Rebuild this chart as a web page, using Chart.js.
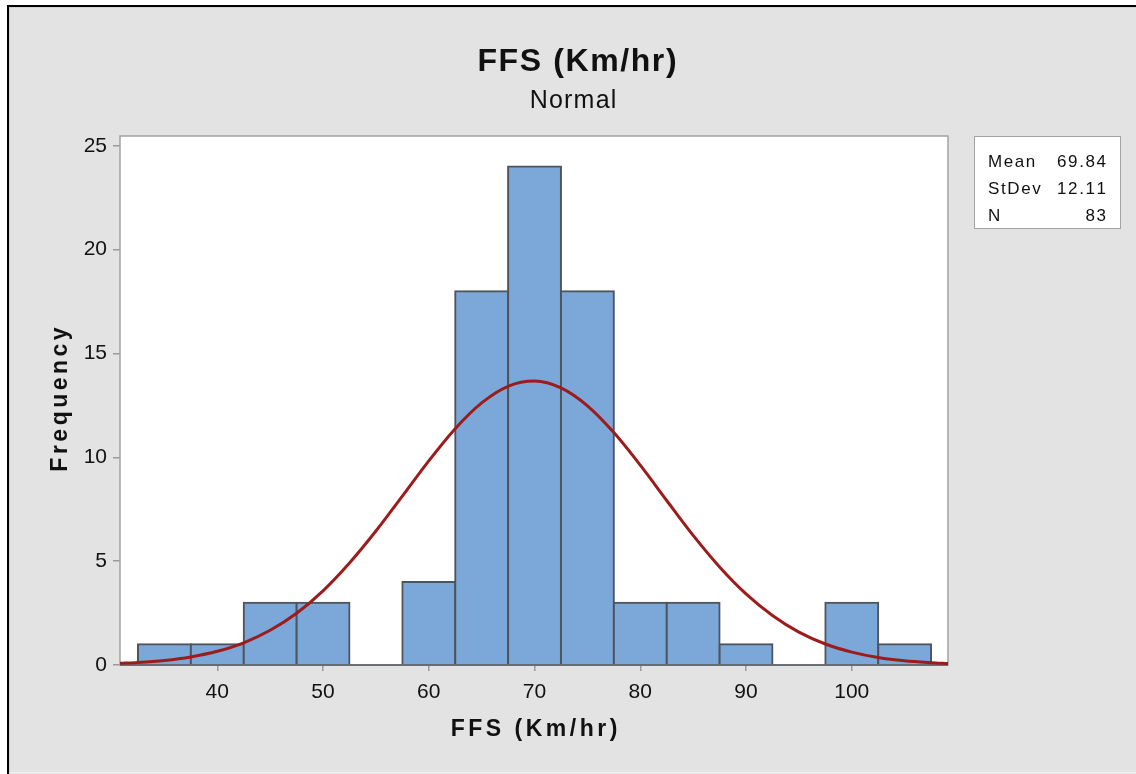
<!DOCTYPE html>
<html>
<head>
<meta charset="utf-8">
<script src="https://cdn.jsdelivr.net/npm/chart.js@4.4.1/dist/chart.umd.min.js"></script>
<style>
  html, body { margin: 0; padding: 0; background: #ffffff; }
  canvas { display: block; }
</style>
</head>
<body>
<canvas id="c" width="1136" height="774"></canvas>
<script>
// ---- Data ----
const BIN_CENTERS = [35, 40, 45, 50, 55, 60, 65, 70, 75, 80, 85, 90, 95, 100, 105];
const FREQUENCIES = [1, 1, 3, 3, 0, 4, 18, 24, 18, 3, 3, 1, 0, 3, 1];
const CURVE_X = [30.8, 32.5, 35, 37.5, 40, 42.5, 45, 47.5, 50, 52.5, 55, 57.5, 60, 62.5, 65, 67.5, 70,
                 72.5, 75, 77.5, 80, 82.5, 85, 87.5, 90, 92.5, 95, 97.5, 100, 102.5, 105, 107.5, 109.1];
const CURVE_Y = [0.08, 0.12, 0.22, 0.39, 0.66, 1.07, 1.67, 2.49, 3.57, 4.91, 6.45, 8.13, 9.83, 11.38, 12.62, 13.42, 13.67,
                 13.34, 12.48, 11.19, 9.62, 7.92, 6.24, 4.72, 3.42, 2.38, 1.58, 1.01, 0.62, 0.36, 0.20, 0.11, 0.07];
const X_TICKS = [40, 50, 60, 70, 80, 90, 100];
const Y_TICKS = [0, 5, 10, 15, 20, 25];
const TITLE = 'FFS (Km/hr)';
const SUBTITLE = 'Normal';
const X_TITLE = 'FFS (Km/hr)';
const Y_TITLE = 'Frequency';
const STAT_LABELS = ['Mean', 'StDev', 'N'];
const STAT_VALUES = ['69.84', '12.11', '83'];

const FONT = '"Liberation Sans", Arial, Helvetica, sans-serif';

function drawSpaced(ctx, text, x, y, align, sp) {
  const chars = [...text];
  const ws = chars.map(c => ctx.measureText(c).width);
  const total = ws.reduce((a, b) => a + b, 0) + sp * (chars.length - 1);
  let cx = align === 'center' ? x - total / 2 : (align === 'right' ? x - total : x);
  ctx.textAlign = 'left';
  chars.forEach((c, i) => { ctx.fillText(c, cx, y); cx += ws[i] + sp; });
}

const decor = {
  id: 'decor',
  beforeDraw(chart) {
    const { ctx, chartArea: a, width, height } = chart;
    ctx.save();
    ctx.fillStyle = '#ffffff';
    ctx.fillRect(0, 0, width, height);
    ctx.fillStyle = '#e3e3e3';
    ctx.fillRect(8, 6, width - 8, height - 6);
    ctx.fillStyle = '#d2d2d2';
    ctx.fillRect(9, 7, width - 9, 1);
    ctx.fillRect(9, 7, 1, height - 7);
    ctx.fillStyle = '#f2f2f2';
    ctx.fillRect(9, height - 2, width - 9, 1);
    ctx.fillStyle = '#000000';
    ctx.fillRect(7, 5, 2, height - 5);
    ctx.fillRect(7, 5, width - 7, 2);
    ctx.fillStyle = '#ffffff';
    ctx.fillRect(a.left, a.top, a.right - a.left, a.bottom - a.top);
    ctx.restore();
  },
  beforeDatasetsDraw(chart) {
    const { ctx, chartArea: a } = chart;
    ctx.save();
    ctx.strokeStyle = '#a3a3a3';
    ctx.lineWidth = 1.5;
    ctx.strokeRect(a.left, a.top, a.right - a.left, a.bottom - a.top);
    ctx.restore();
  },
  beforeDatasetDraw(chart, args) {
    if (args.meta.type !== 'line') return;
    const { ctx, chartArea: a } = chart;
    ctx.save();
    ctx.strokeStyle = '#50565c';
    ctx.lineWidth = 1.5;
    ctx.beginPath();
    ctx.moveTo(a.left, a.bottom);
    ctx.lineTo(a.right, a.bottom);
    ctx.stroke();
    ctx.restore();
  },
  afterDraw(chart) {
    const { ctx, chartArea: a } = chart;
    ctx.save();
    ctx.fillStyle = '#111111';
    ctx.textBaseline = 'alphabetic';
    // main title
    ctx.font = 'bold 32px ' + FONT;
    drawSpaced(ctx, TITLE, 577, 71, 'center', 1.6);
    ctx.font = '25px ' + FONT;
    drawSpaced(ctx, SUBTITLE, 573, 108, 'center', 1.2);
    // axis titles
    ctx.font = 'bold 23px ' + FONT;
    drawSpaced(ctx, X_TITLE, (a.left + a.right) / 2, 736, 'center', 3.5);
    ctx.save();
    ctx.translate(67, (a.top + a.bottom) / 2 - 1);
    ctx.rotate(-Math.PI / 2);
    drawSpaced(ctx, Y_TITLE, 0, 0, 'center', 3.5);
    ctx.restore();
    // stats box
    ctx.fillStyle = '#ffffff';
    ctx.fillRect(974.5, 136.5, 146, 92);
    ctx.strokeStyle = '#a3a3a3';
    ctx.lineWidth = 1;
    ctx.strokeRect(974.5, 136.5, 146, 92);
    ctx.fillStyle = '#111111';
    ctx.font = '17px ' + FONT;
    const baselines = [167, 194, 221];
    STAT_LABELS.forEach((lbl, i) => {
      drawSpaced(ctx, lbl, 988, baselines[i], 'left', 1.6);
      drawSpaced(ctx, STAT_VALUES[i], 1106, baselines[i], 'right', 1.6);
    });
    ctx.restore();
  }
};

const BAR_FILL = '#7ca7d9';

new Chart(document.getElementById('c'), {
  type: 'bar',
  data: {
    datasets: [
      {
        type: 'line',
        order: 1,
        data: CURVE_X.map((x, i) => ({ x: x, y: CURVE_Y[i] })),
        borderColor: '#9c1c1c',
        borderWidth: 3,
        pointRadius: 0,
        cubicInterpolationMode: 'monotone',
        fill: false,
        clip: 4
      },
      {
        type: 'bar',
        order: 2,
        data: BIN_CENTERS.map((c, i) => ({ x: c, y: FREQUENCIES[i] })),
        backgroundColor: ctx => (ctx.raw && ctx.raw.y === 0 ? 'rgba(0,0,0,0)' : BAR_FILL),
        borderColor: '#4e545b',
        borderWidth: 2,
        inflateAmount: 1,
        borderSkipped: 'start',
        barPercentage: 1,
        categoryPercentage: 1
      }
    ]
  },
  options: {
    responsive: false,
    devicePixelRatio: 1,
    animation: false,
    layout: { padding: { top: 136, right: 188, left: 0, bottom: 0 } },
    plugins: {
      legend: { display: false },
      tooltip: { enabled: false },
      title: { display: false }
    },
    scales: {
      x: {
        type: 'linear',
        min: 30.8,
        max: 109.1,
        offset: false,
        grid: { display: true, drawOnChartArea: false, drawTicks: true, tickLength: 6, color: '#9a9a9a', lineWidth: 1.5, offset: false },
        border: { display: false },
        ticks: { font: { family: FONT, size: 21 }, color: '#111111', padding: 9, maxRotation: 0, autoSkip: false },
        afterBuildTicks: s => { s.ticks = X_TICKS.map(v => ({ value: v })); },
        afterFit: s => { s.height = 109; }
      },
      y: {
        type: 'linear',
        min: 0,
        max: 25.47,
        grid: { display: true, drawOnChartArea: false, drawTicks: true, tickLength: 7, color: '#9a9a9a', lineWidth: 1.5 },
        border: { display: false },
        ticks: { font: { family: FONT, size: 21 }, color: '#111111', padding: 6 },
        afterBuildTicks: s => { s.ticks = Y_TICKS.map(v => ({ value: v })); },
        afterFit: s => { s.width = 120; }
      }
    }
  },
  plugins: [decor]
});
</script>
</body>
</html>
